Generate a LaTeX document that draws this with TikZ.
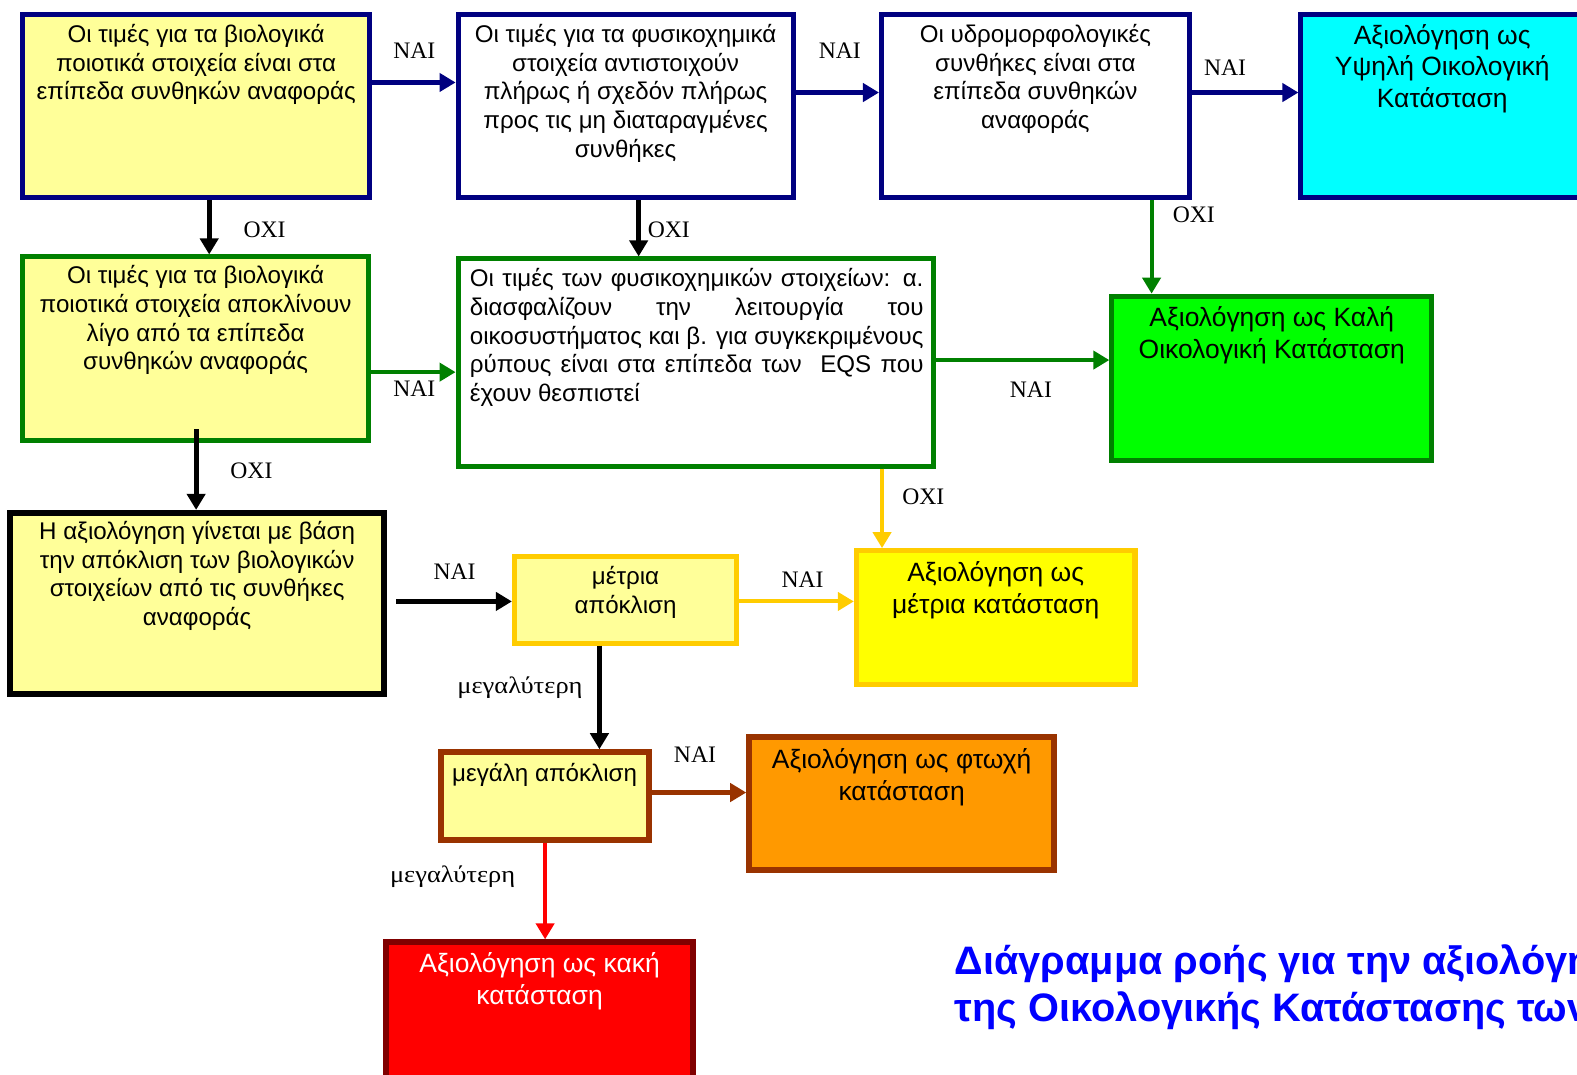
\documentclass[tikz,border=0pt]{standalone}
\usepackage{fontspec}
\setmainfont{Liberation Sans}
\newfontfamily\lblfont{Liberation Serif}
\usetikzlibrary{arrows.meta}
\definecolor{navy}{HTML}{000080}
\definecolor{dgreen}{HTML}{008000}
\definecolor{lgreen}{HTML}{00FF00}
\definecolor{cyanf}{HTML}{00FFFF}
\definecolor{lyellow}{HTML}{FFFF99}
\definecolor{gold}{HTML}{FFCC00}
\definecolor{yel}{HTML}{FFFF00}
\definecolor{orangef}{HTML}{FF9900}
\definecolor{brown}{HTML}{993300}
\definecolor{redf}{HTML}{FF0000}
\definecolor{dred}{HTML}{800000}
\definecolor{titleblue}{HTML}{0000FF}
\begin{document}
\begin{tikzpicture}[x=1pt,y=-1pt,
  box/.style={draw, line width=5pt, inner sep=0pt},
  txt/.style={anchor=north, align=center, inner sep=0pt, font=\fontsize{24}{28.5}\selectfont},
  bigtxt/.style={anchor=north, align=center, inner sep=0pt, font=\fontsize{26.3}{31.5}\selectfont},
  lbl/.style={inner sep=0pt, font=\lblfont\fontsize{23.5}{26}\selectfont},
  arr/.style={line width=5pt, -{Triangle[length=16pt,width=18pt]}},
  arrthin/.style={line width=4pt, -{Triangle[length=16pt,width=18pt]}}
]
\useasboundingbox (0,0) rectangle (1568,1068);
\clip (0,0) rectangle (1568,1068);

% boxes
\node[box, draw=navy, fill=lyellow, minimum width=345pt, minimum height=182pt] (b1) at (195,105.5) {};
\node[box, draw=navy, fill=white, minimum width=333pt, minimum height=182pt] (b2) at (622,105.5) {};
\node[box, draw=navy, fill=white, minimum width=306pt, minimum height=182pt] (b3) at (1029.5,105.5) {};
\node[box, draw=navy, fill=cyanf, minimum width=304pt, minimum height=182pt] (b4) at (1445.5,105.5) {};
\node[box, draw=dgreen, fill=lyellow, minimum width=344pt, minimum height=182pt] (b5) at (194.5,346.5) {};
\node[box, draw=dgreen, fill=white, minimum width=473pt, minimum height=206pt] (b6) at (692,360.5) {};
\node[box, draw=dgreen, fill=lgreen, minimum width=318pt, minimum height=163pt] (b7) at (1264.5,376) {};
\node[box, line width=6pt, draw=black, fill=lyellow, minimum width=372pt, minimum height=180pt] (b8) at (196,600) {};
\node[box, draw=gold, fill=lyellow, minimum width=221pt, minimum height=86pt] (b9) at (622,596.5) {};
\node[box, draw=gold, fill=yel, minimum width=277pt, minimum height=133pt] (b10) at (990,614) {};
\node[box, line width=6pt, draw=brown, fill=lyellow, minimum width=207pt, minimum height=87pt] (b11) at (541.5,791.5) {};
\node[box, line width=6pt, draw=brown, fill=orangef, minimum width=303pt, minimum height=132pt] (b12) at (896.5,799) {};
\node[box, line width=6pt, draw=dred, fill=redf, minimum width=305pt, minimum height=140pt] (b13) at (536.5,1007) {};

% texts
\node[txt] (t1) at (195,24) {Οι τιμές για τα βιολογικά\\ποιοτικά στοιχεία είναι στα\\επίπεδα συνθηκών αναφοράς};
\node[txt] (t2) at (622,24) {Οι τιμές για τα φυσικοχημικά\\στοιχεία αντιστοιχούν\\πλήρως ή σχεδόν πλήρως\\προς τις μη διαταραγμένες\\συνθήκες};
\node[txt] (t3) at (1029.5,24) {Οι υδρομορφολογικές\\συνθήκες είναι στα\\επίπεδα συνθηκών\\αναφοράς};
\node[bigtxt] (t4) at (1434,24) {Αξιολόγηση ως\\Υψηλή Οικολογική\\Κατάσταση};
\node[txt] (t5) at (194.5,264) {Οι τιμές για τα βιολογικά\\ποιοτικά στοιχεία αποκλίνουν\\λίγο από τα επίπεδα\\συνθηκών αναφοράς};
\node[txt, align=left, anchor=north west] (t6) at (467,267) {\makebox[451pt][s]{Οι τιμές των φυσικοχημικών στοιχείων: α.}\\\makebox[451pt][s]{διασφαλίζουν την λειτουργία του}\\\makebox[451pt][s]{οικοσυστήματος και β. για συγκεκριμένους}\\\makebox[451pt][s]{ρύπους είναι στα επίπεδα των\ \ EQS που}\\έχουν θεσπιστεί};
\node[bigtxt] (t7) at (1264.5,305) {Αξιολόγηση ως Καλή\\Οικολογική Κατάσταση};
\node[txt] (t8) at (196,518) {Η αξιολόγηση γίνεται με βάση\\την απόκλιση των βιολογικών\\στοιχείων από τις συνθήκες\\αναφοράς};
\node[txt] (t9) at (622,563) {μέτρια\\απόκλιση};
\node[bigtxt] (t10) at (990,558) {Αξιολόγηση ως\\μέτρια κατάσταση};
\node[txt] (t11) at (541.5,759) {μεγάλη απόκλιση};
\node[bigtxt] (t12) at (896.5,744) {Αξιολόγηση ως φτωχή\\κατάσταση};
\node[bigtxt, text=white] (t13) at (536.5,947) {Αξιολόγηση ως κακή\\κατάσταση};

% free ends
\coordinate (s1) at (195,427);
\coordinate (s2) at (394,598);

% arrows
\draw[arr, navy] (b1.east |- 0,82) -- (b2.west |- 0,82);
\draw[arr, navy] (b2.east |- 0,92) -- (b3.west |- 0,92);
\draw[arr, navy] (b3.east |- 0,92) -- (b4.west |- 0,92);
\draw[arr, black] (208,0 |- b1.south) -- (208,0 |- b5.north);
\draw[arr, black] (635,0 |- b2.south) -- (635,0 |- b6.north);
\draw[arrthin, dgreen] (1145,0 |- b3.south) -- (1145,0 |- b7.north);
\draw[arrthin, dgreen] (b5.east |- 0,370) -- (b6.west |- 0,370);
\draw[arrthin, dgreen] (b6.east |- 0,358) -- (b7.west |- 0,358);
\draw[arr, black] (s1) -- (s1 |- b8.north);
\draw[arrthin, gold] (877,0 |- b6.south) -- (877,0 |- b10.north);
\draw[arr, black] (s2) -- (b9.west |- s2);
\draw[arrthin, gold] (b9.east |- 0,598) -- (b10.west |- 0,598);
\draw[arr, black] (596,0 |- b9.south) -- (596,0 |- b11.north);
\draw[arr, brown] (b11.east |- 0,788) -- (b12.west |- 0,788);
\draw[arrthin, redf] (542,0 |- b11.south) -- (542,0 |- b13.north);

% labels
\node[lbl] (l1) at (412,50) {ΝΑΙ};
\node[lbl] (l2) at (835,50) {ΝΑΙ};
\node[lbl] (l3) at (1218,67) {ΝΑΙ};
\node[lbl] (l4) at (263,228) {ΟΧΙ};
\node[lbl] (l5) at (665,228) {ΟΧΙ};
\node[lbl] (l6) at (1187,214) {ΟΧΙ};
\node[lbl] (l7) at (412,386) {ΝΑΙ};
\node[lbl] (l8) at (1025,387) {ΝΑΙ};
\node[lbl] (l9) at (250,468) {ΟΧΙ};
\node[lbl] (l10) at (918,494) {ΟΧΙ};
\node[lbl] (l11) at (452,568) {ΝΑΙ};
\node[lbl] (l12) at (798,576) {ΝΑΙ};
\node[lbl] (l13) at (517,684) {\scalebox{1.12}[1]{μεγαλύτερη}};
\node[lbl] (l14) at (691,750) {ΝΑΙ};
\node[lbl] (l15) at (450,872) {\scalebox{1.12}[1]{μεγαλύτερη}};

% title
\node[anchor=north west, align=left, inner sep=0pt, text=titleblue,
  font=\bfseries\fontsize{39.5}{47}\selectfont] (title) at (949,939)
  {Διάγραμμα ροής για την αξιολόγηση\\της Οικολογικής Κατάστασης των υδάτων};
\end{tikzpicture}
\end{document}
